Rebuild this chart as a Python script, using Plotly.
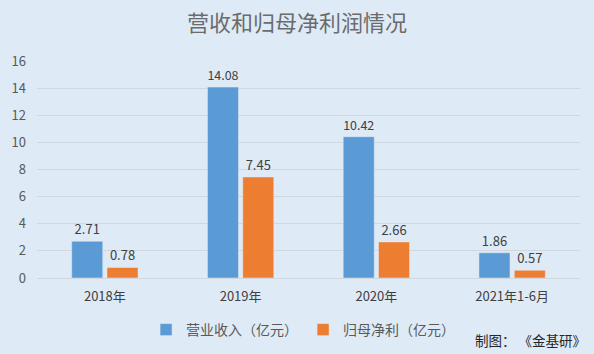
import plotly.graph_objects as go

categories = ["2018年", "2019年", "2020年", "2021年1-6月"]
revenue = [2.71, 14.08, 10.42, 1.86]
net_profit = [0.78, 7.45, 2.66, 0.57]
y_ticks = [0, 2, 4, 6, 8, 10, 12, 14, 16]

font_family = "Noto Sans CJK SC, Liberation Sans, sans-serif"
bg = "#DEEAF6"

fig = go.Figure()
fig.add_trace(go.Bar(
    x=categories, y=revenue, name="营业收入（亿元）",
    marker_color="#5B9BD5",
    text=[f"{v:.2f}" for v in revenue], textposition="outside",
    textfont=dict(size=13, color="#404040"), cliponaxis=False,
))
fig.add_trace(go.Bar(
    x=categories, y=net_profit, name="归母净利（亿元）",
    marker_color="#ED7D31",
    text=[f"{v:.2f}" for v in net_profit], textposition="outside",
    textfont=dict(size=13, color="#404040"), cliponaxis=False,
))

fig.update_layout(
    width=594, height=354,
    paper_bgcolor=bg, plot_bgcolor=bg,
    font=dict(family=font_family, color="#595959", size=13),
    title=dict(text="营收和归母净利润情况", x=0.5, xanchor="center", y=0.935, yanchor="middle",
               font=dict(size=22, color="#6B6B6B")),
    margin=dict(l=37, r=14, t=61, b=76, autoexpand=False),
    barmode="group", bargap=0.48, bargroupgap=0.12,
    showlegend=True,
    legend=dict(orientation="h", x=0.49, xanchor="center", yref="container",
                y=1 - 330 / 354, yanchor="middle",
                font=dict(size=14, color="#595959"), itemwidth=30,
                bgcolor="rgba(0,0,0,0)"),
    yaxis=dict(range=[0, 16], tickvals=y_ticks, showgrid=True, gridcolor="#D0D7DE",
               gridwidth=1, zeroline=False, showline=False, ticks="", ticklabelstandoff=10,
               tickfont=dict(size=13, color="#595959")),
    xaxis=dict(showline=True, linecolor="#D0D7DE", linewidth=1, ticks="", ticklabelstandoff=6,
               tickfont=dict(size=13, color="#404040")),
    annotations=[dict(text="制图： 《金基研》", xref="paper", yref="paper", x=1.015, y=-0.286,
                      xanchor="right", yanchor="middle", showarrow=False,
                      font=dict(size=13.5, color="#262626"))],
)

fig.write_html("out.html")
